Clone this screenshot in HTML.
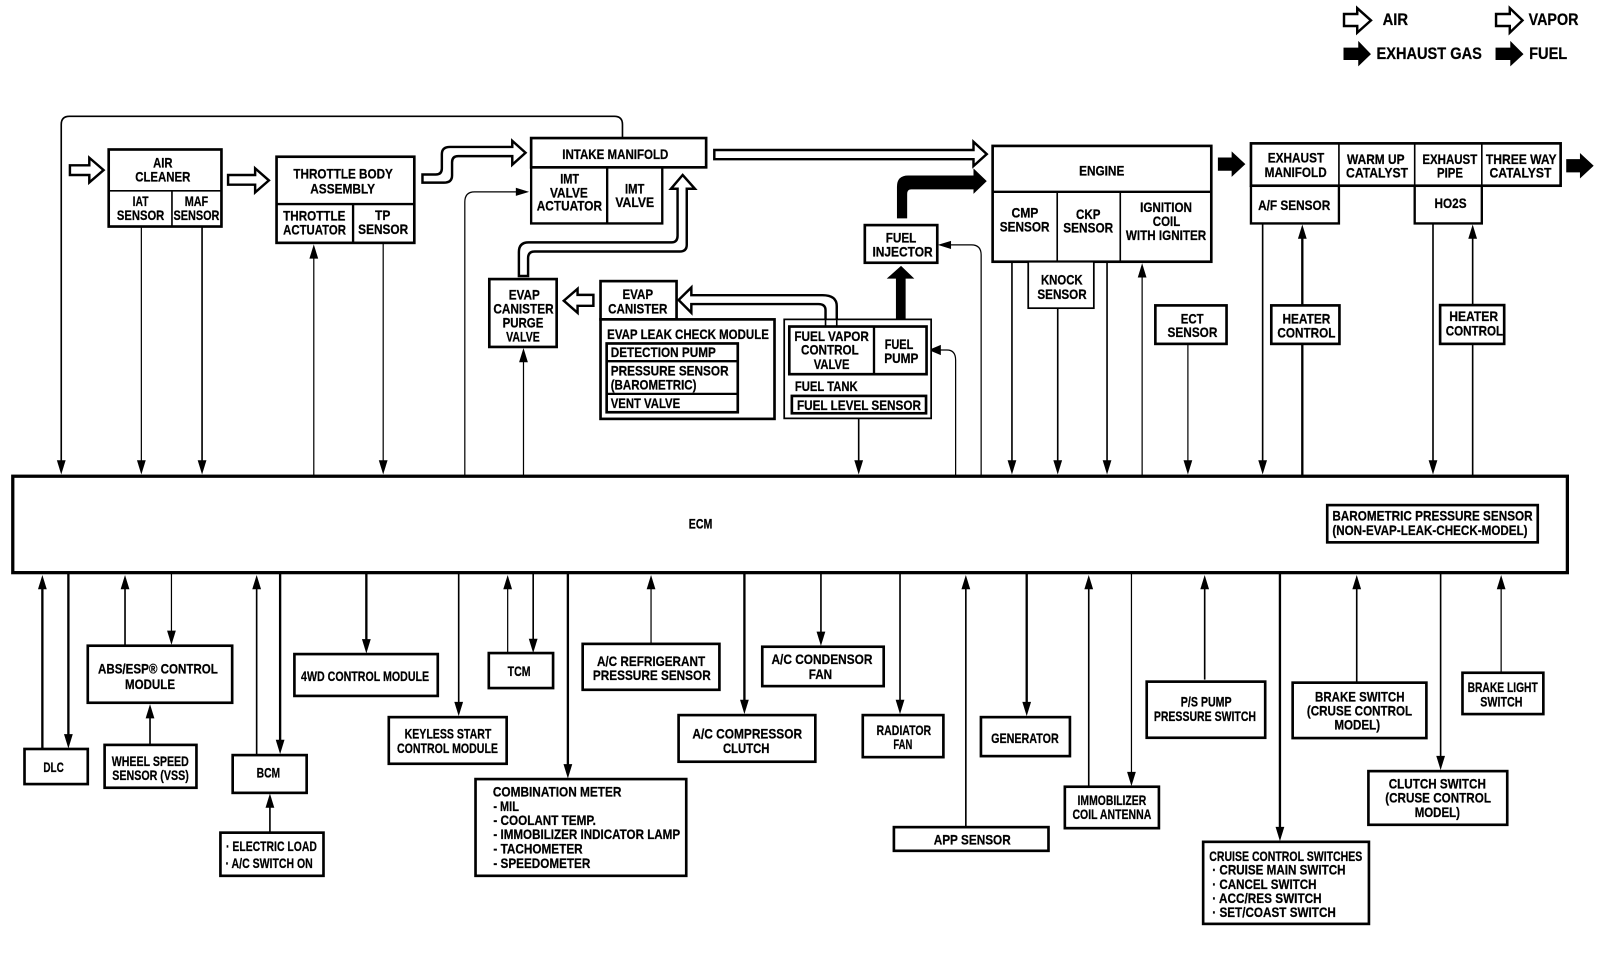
<!DOCTYPE html>
<html><head><meta charset="utf-8"><title>ECM system diagram</title>
<style>
html,body{margin:0;padding:0;background:#fff}
svg{display:block}
text{font-family:"Liberation Sans",sans-serif;font-weight:bold;font-size:14px;fill:#000;stroke:#000;stroke-width:.25}
text.lg{font-size:16.5px}
.b{fill:#fff;stroke:#000;stroke-width:2.6}
.m{fill:#fff;stroke:#000;stroke-width:1.7}
.n{fill:none;stroke:#000;stroke-width:1.6}
.l{fill:none;stroke:#000;stroke-width:1.6}
.t{fill:none;stroke:#000;stroke-width:2.3}
.h{fill:none;stroke:#000;stroke-width:1.2}
.w{fill:#fff;stroke:#000;stroke-width:2.4;stroke-linejoin:miter}
.k{fill:#000;stroke:none}
</style></head><body>
<svg xmlns="http://www.w3.org/2000/svg" width="1598" height="960" viewBox="0 0 1566 940.8">
<defs>
<path id="d" d="M0,0L-4.3,-14L4.3,-14Z"/>
<path id="u" d="M0,0L-4.3,14L4.3,14Z"/>
<path id="r" d="M0,0L-13,-4L-13,4Z"/>
<path id="f" d="M0,0L-13.5,-12.5L-13.5,-6.5L-27,-6.5L-27,6.5L-13.5,6.5L-13.5,12.5Z"/>
</defs>
<rect width="1566" height="941" fill="#fff"/>

<!-- connectors upper -->
<path class="l" d="M610,135V122Q610,114 602,114H68Q60,114 60,122V455"/>
<use href="#d" x="60" y="465"/>
<path class="h" d="M138.5,222V455"/><use href="#d" x="138.5" y="465"/>
<path class="l" d="M198,222V455"/><use href="#d" x="198" y="465"/>
<path class="h" d="M307.5,466V250"/><use href="#u" x="307.5" y="239.5"/>
<path class="h" d="M375.5,238V455"/><use href="#d" x="375.5" y="465"/>
<path class="h" d="M455.5,466V198Q455.5,188 465,188H508"/><use href="#r" x="518.5" y="188"/>
<path class="h" d="M513,466V350"/><use href="#u" x="513" y="341"/>
<path class="l" d="M841.5,405V455"/><use href="#d" x="841.5" y="465"/>
<path class="h" d="M936.5,466V353Q936.5,343 928,343H920"/><path d="M910,343L922,338V348Z" fill="#000"/>
<path class="h" d="M961.5,466V250Q961.5,240 952,240H930"/><path d="M919,240L932,236V244Z" fill="#000"/>

<!-- connectors lower -->
<path class="t" d="M41.5,734V570"/><use href="#u" x="41.5" y="563.5"/>
<path class="t" d="M67,561V725"/><use href="#d" x="67" y="733.5"/>
<path class="l" d="M122.5,633V570"/><use href="#u" x="122.5" y="563.5"/>
<path class="h" d="M168,561V622"/><use href="#d" x="168" y="632"/>
<path class="l" d="M147,730V698"/><use href="#u" x="147" y="690"/>
<path class="l" d="M251.5,740V570"/><use href="#u" x="251.5" y="563.5"/>
<path class="t" d="M274.5,561V730"/><use href="#d" x="274.5" y="739"/>
<path class="l" d="M264.5,816V786"/><use href="#u" x="264.5" y="777.6"/>
<path class="t" d="M359,561V630"/><use href="#d" x="359" y="640.4"/>
<path class="l" d="M449.5,561V692"/><use href="#d" x="449.5" y="701.8"/>
<path class="h" d="M497.5,640V570"/><use href="#u" x="497.5" y="563.5"/>
<path class="l" d="M522.5,561V630"/><use href="#d" x="522.5" y="640"/>
<path class="t" d="M556.5,561V752"/><use href="#d" x="556.5" y="762.9"/>
<path class="h" d="M638,631V570"/><use href="#u" x="638" y="563.5"/>
<path class="t" d="M729.5,561V690"/><use href="#d" x="729.5" y="699.8"/>
<path class="l" d="M804.5,561V623"/><use href="#d" x="804.5" y="633"/>
<path class="l" d="M882,561V690"/><use href="#d" x="882" y="699.8"/>
<path class="l" d="M946.5,810V570"/><use href="#u" x="946.5" y="563.5"/>

<g transform="matrix(.99667 0 0 1 3 0)">
<path class="l" d="M992,256V455"/><use href="#d" x="992" y="465"/>
<path class="l" d="M1037,302V455"/><use href="#d" x="1037" y="465"/>
<path class="l" d="M1085.5,256V455"/><use href="#d" x="1085.5" y="465"/>
<path class="h" d="M1120,466V268"/><use href="#u" x="1120" y="258"/>
<path class="h" d="M1165,337V455"/><use href="#d" x="1165" y="465"/>
<path class="l" d="M1238.5,219V455"/><use href="#d" x="1238.5" y="465"/>
<path class="t" d="M1277.5,466V230"/><use href="#u" x="1277.5" y="220"/>
<path class="l" d="M1406,219V455"/><use href="#d" x="1406" y="465"/>
<path class="l" d="M1445,466V230"/><use href="#u" x="1445" y="220"/>
<path class="t" d="M1006.5,561V692"/><use href="#d" x="1006.5" y="701.8"/>
<path class="l" d="M1067.5,771V570"/><use href="#u" x="1067.5" y="563.5"/>
<path class="h" d="M1109.5,561V760"/><use href="#d" x="1109.5" y="770.4"/>
<path class="l" d="M1181.5,666V570"/><use href="#u" x="1181.5" y="563.5"/>
<path class="t" d="M1255.5,561V815"/><use href="#d" x="1255.5" y="824.3"/>
<path class="l" d="M1331,669V570"/><use href="#u" x="1331" y="563.5"/>
<path class="l" d="M1413.5,561V745"/><use href="#d" x="1413.5" y="754.7"/>
<path class="h" d="M1473,659V570"/><use href="#u" x="1473" y="563.5"/>
</g>

<!-- flow arrows -->
<path class="w" d="M68.5,162H87.5V154.6L101.5,166.7L87.5,178.8V171.5H68.5Z"/>
<path class="w" d="M223.5,171.5H250V165L263.5,176.8L250,188.6V181H223.5Z"/>
<path class="w" d="M414,171H427Q433,171 433,165V151Q433,144 441,144H502V138L515,149.7L502,161.4V153H449Q443,153 443,159V172Q443,179 435,179H414Z"/>
<path class="w" d="M700,147H954V139L967,151L954,162.7V156H700Z"/>
<path class="w" d="M508.5,270.5V247Q508.5,237.5 518,237.5H658Q664,237.5 664,231V185H657.5L669,171.5L681,185H673V240Q673,246.5 666,246.5H524Q517.5,246.5 517.5,253V270.5Z"/>
<path class="w" d="M581.5,289H566V283L552.5,294.7L566,306.5V299.7H581.5Z"/>
<path class="w" d="M820,318.6V300Q820,289.3 806,289.3H677.5V281.7L665,294L677.5,306.5V298H802Q809,298 809,304V318.6"/>
<path class="k" d="M879,214V183Q879,172 890,172H954V165L967,177.5L954,190V185.6H893Q889,185.6 889,190V214Z"/>
<path class="k" d="M878,320V273H869L883,260.5L896,273H887.5V320Z"/>

<!-- left boxes -->
<rect class="b" x="106.5" y="146.5" width="110.5" height="75.5"/>
<path class="n" d="M106.5,187H217M168.5,187V222"/>
<rect class="b" x="271" y="153.6" width="135" height="84.4"/>
<path class="t" d="M271,200H406M346,200V238"/>
<rect class="b" x="520.5" y="135.3" width="171.5" height="28.7"/>
<path class="t" d="M520.5,164V219H649V164M595,164V219"/>
<rect class="b" x="479.5" y="273.5" width="66" height="66.5"/>
<rect class="b" x="588.5" y="275.5" width="74.5" height="37.5"/>
<rect class="b" x="588.5" y="313" width="170.5" height="97.5"/>
<rect class="b" x="594.5" y="336.6" width="128.5" height="67.4"/>
<path class="t" d="M594.5,354H723M594.5,386H723"/>
<rect class="m" x="768.5" y="313" width="144" height="97"/>
<rect class="b" x="773.5" y="320" width="134.5" height="46.7"/>
<path class="t" d="M856.5,320V366.7"/>
<rect class="b" x="776" y="388" width="131.5" height="17"/>
<path class="n" d="M809,320V304Q809,298 802,298M820,320V300Q820,289.3 806,289.3"/>
<rect class="b" x="847.5" y="220.6" width="71" height="36.9"/>
<rect x="12.5" y="466.7" width="1523.5" height="94.5" fill="#fff" stroke="#000" stroke-width="3.2"/>
<rect class="b" x="24" y="734" width="62" height="34.4"/>
<rect class="b" x="86" y="632.8" width="141.5" height="55.9"/>
<rect class="b" x="102.5" y="730" width="90" height="42"/>
<rect class="b" x="228" y="740" width="72.5" height="37"/>
<rect class="b" x="216" y="816" width="101" height="42.3"/>
<rect class="b" x="288.5" y="641" width="140.5" height="41"/>
<rect class="b" x="381" y="702.8" width="115.5" height="45.7"/>
<rect class="b" x="479" y="640" width="63" height="34.3"/>
<rect class="b" x="466" y="763.5" width="206.5" height="94.8"/>
<rect class="b" x="571" y="631" width="134" height="45"/>
<rect class="b" x="665" y="700.8" width="134" height="45.7"/>
<rect class="b" x="747" y="633.8" width="119" height="38.6"/>
<rect class="b" x="845.5" y="700.8" width="79" height="41.2"/>
<rect class="b" x="876" y="810.6" width="151.5" height="23.2"/>

<!-- left labels -->
<text x="150" y="164" textLength="19" lengthAdjust="spacingAndGlyphs">AIR</text>
<text x="132.5" y="178" textLength="54" lengthAdjust="spacingAndGlyphs">CLEANER</text>
<text x="130" y="202" textLength="15.5" lengthAdjust="spacingAndGlyphs">IAT</text>
<text x="114.5" y="215.7" textLength="46.5" lengthAdjust="spacingAndGlyphs">SENSOR</text>
<text x="181" y="202" textLength="23" lengthAdjust="spacingAndGlyphs">MAF</text>
<text x="170" y="215.7" textLength="45" lengthAdjust="spacingAndGlyphs">SENSOR</text>
<text x="287.5" y="175" textLength="97.5" lengthAdjust="spacingAndGlyphs">THROTTLE BODY</text>
<text x="304" y="189.5" textLength="63.5" lengthAdjust="spacingAndGlyphs">ASSEMBLY</text>
<text x="277.5" y="216" textLength="61" lengthAdjust="spacingAndGlyphs">THROTTLE</text>
<text x="277.5" y="230" textLength="61.5" lengthAdjust="spacingAndGlyphs">ACTUATOR</text>
<text x="367.5" y="215.7" textLength="15" lengthAdjust="spacingAndGlyphs">TP</text>
<text x="351" y="229.4" textLength="49" lengthAdjust="spacingAndGlyphs">SENSOR</text>
<text x="551" y="156" textLength="104" lengthAdjust="spacingAndGlyphs">INTAKE MANIFOLD</text>
<text x="549" y="179.7" textLength="18.5" lengthAdjust="spacingAndGlyphs">IMT</text>
<text x="539" y="193.5" textLength="37" lengthAdjust="spacingAndGlyphs">VALVE</text>
<text x="526" y="206.5" textLength="64" lengthAdjust="spacingAndGlyphs">ACTUATOR</text>
<text x="612.5" y="189.5" textLength="19" lengthAdjust="spacingAndGlyphs">IMT</text>
<text x="603" y="203" textLength="38" lengthAdjust="spacingAndGlyphs">VALVE</text>
<text x="498.5" y="293.5" textLength="30.5" lengthAdjust="spacingAndGlyphs">EVAP</text>
<text x="483.5" y="307" textLength="59" lengthAdjust="spacingAndGlyphs">CANISTER</text>
<text x="492.5" y="321" textLength="40" lengthAdjust="spacingAndGlyphs">PURGE</text>
<text x="496" y="334.6" textLength="33" lengthAdjust="spacingAndGlyphs">VALVE</text>
<text x="610" y="293" textLength="30" lengthAdjust="spacingAndGlyphs">EVAP</text>
<text x="596" y="307" textLength="58" lengthAdjust="spacingAndGlyphs">CANISTER</text>
<text x="595" y="332" textLength="158.5" lengthAdjust="spacingAndGlyphs">EVAP LEAK CHECK MODULE</text>
<text x="598.5" y="350" textLength="103" lengthAdjust="spacingAndGlyphs">DETECTION PUMP</text>
<text x="598.5" y="368" textLength="115.5" lengthAdjust="spacingAndGlyphs">PRESSURE SENSOR</text>
<text x="598.5" y="381.7" textLength="84" lengthAdjust="spacingAndGlyphs">(BAROMETRIC)</text>
<text x="598.5" y="400" textLength="68" lengthAdjust="spacingAndGlyphs">VENT VALVE</text>
<text x="778.5" y="334" textLength="73" lengthAdjust="spacingAndGlyphs">FUEL VAPOR</text>
<text x="785" y="347.4" textLength="56.5" lengthAdjust="spacingAndGlyphs">CONTROL</text>
<text x="797.5" y="361.8" textLength="35" lengthAdjust="spacingAndGlyphs">VALVE</text>
<text x="867" y="342" textLength="28" lengthAdjust="spacingAndGlyphs">FUEL</text>
<text x="866.5" y="355.6" textLength="33.5" lengthAdjust="spacingAndGlyphs">PUMP</text>
<text x="779" y="383" textLength="61.5" lengthAdjust="spacingAndGlyphs">FUEL TANK</text>
<text x="781" y="402" textLength="121.5" lengthAdjust="spacingAndGlyphs">FUEL LEVEL SENSOR</text>
<text x="868" y="237.6" textLength="30" lengthAdjust="spacingAndGlyphs">FUEL</text>
<text x="855" y="251.6" textLength="59" lengthAdjust="spacingAndGlyphs">INJECTOR</text>
<text x="675" y="517.8" textLength="23" lengthAdjust="spacingAndGlyphs">ECM</text>
<text x="42.5" y="756.4" textLength="20" lengthAdjust="spacingAndGlyphs">DLC</text>
<text x="96" y="660" textLength="117.5" lengthAdjust="spacingAndGlyphs">ABS/ESP® CONTROL</text>
<text x="122.5" y="675.3" textLength="49" lengthAdjust="spacingAndGlyphs">MODULE</text>
<text x="109.5" y="750.8" textLength="75.5" lengthAdjust="spacingAndGlyphs">WHEEL SPEED</text>
<text x="110" y="764.5" textLength="75" lengthAdjust="spacingAndGlyphs">SENSOR (VSS)</text>
<text x="251.5" y="762" textLength="23" lengthAdjust="spacingAndGlyphs">BCM</text>
<text x="221.5" y="834" textLength="89" lengthAdjust="spacingAndGlyphs">· ELECTRIC LOAD</text>
<text x="221" y="850.5" textLength="85.5" lengthAdjust="spacingAndGlyphs">· A/C SWITCH ON</text>
<text x="295" y="667.5" textLength="125.5" lengthAdjust="spacingAndGlyphs">4WD CONTROL MODULE</text>
<text x="396.5" y="723.7" textLength="85" lengthAdjust="spacingAndGlyphs">KEYLESS START</text>
<text x="389" y="737.7" textLength="99" lengthAdjust="spacingAndGlyphs">CONTROL MODULE</text>
<text x="497.5" y="662.5" textLength="22.5" lengthAdjust="spacingAndGlyphs">TCM</text>
<text x="483" y="780.8" textLength="126" lengthAdjust="spacingAndGlyphs">COMBINATION METER</text>
<text x="483.5" y="795" textLength="25" lengthAdjust="spacingAndGlyphs">- MIL</text>
<text x="483.5" y="808.6" textLength="100.5" lengthAdjust="spacingAndGlyphs">- COOLANT TEMP.</text>
<text x="483.5" y="822.4" textLength="183" lengthAdjust="spacingAndGlyphs">- IMMOBILIZER INDICATOR LAMP</text>
<text x="483.5" y="836.4" textLength="87.5" lengthAdjust="spacingAndGlyphs">- TACHOMETER</text>
<text x="483.5" y="850.5" textLength="95" lengthAdjust="spacingAndGlyphs">- SPEEDOMETER</text>
<text x="585" y="652.8" textLength="106" lengthAdjust="spacingAndGlyphs">A/C REFRIGERANT</text>
<text x="581" y="666.5" textLength="115.5" lengthAdjust="spacingAndGlyphs">PRESSURE SENSOR</text>
<text x="678.5" y="723.7" textLength="107.5" lengthAdjust="spacingAndGlyphs">A/C COMPRESSOR</text>
<text x="708.5" y="737.7" textLength="45.5" lengthAdjust="spacingAndGlyphs">CLUTCH</text>
<text x="756" y="650.8" textLength="99" lengthAdjust="spacingAndGlyphs">A/C CONDENSOR</text>
<text x="792.5" y="665.5" textLength="23" lengthAdjust="spacingAndGlyphs">FAN</text>
<text x="859" y="720.4" textLength="53.5" lengthAdjust="spacingAndGlyphs">RADIATOR</text>
<text x="875.5" y="734" textLength="18.5" lengthAdjust="spacingAndGlyphs">FAN</text>
<text x="915" y="827.6" textLength="75.5" lengthAdjust="spacingAndGlyphs">APP SENSOR</text>

<!-- right side -->
<g transform="matrix(.99667 0 0 1 3 0)">
<use href="#f" x="1221.5" y="160.8"/>
<use href="#f" x="1564" y="162.4"/>
<path class="w" d="M1318.5,13.7H1331.5V8L1345,20L1331.5,32V25.5H1318.5Z"/>
<path class="w" d="M1468,13.7H1481.5V8L1494,20L1481.5,32V25.5H1468Z"/>
<path class="k" d="M1318,46.7H1332.5V40L1345,53L1332.5,65V58.8H1318Z"/>
<path class="k" d="M1467.5,46.7H1482V40L1495,53L1482,65V58.8H1467.5Z"/>
<text class="lg" x="1356.5" y="24.5" textLength="25" lengthAdjust="spacingAndGlyphs">AIR</text>
<text class="lg" x="1500" y="24.5" textLength="49" lengthAdjust="spacingAndGlyphs">VAPOR</text>
<text class="lg" x="1350.5" y="57.8" textLength="103.5" lengthAdjust="spacingAndGlyphs">EXHAUST GAS</text>
<text class="lg" x="1500.5" y="57.8" textLength="37.5" lengthAdjust="spacingAndGlyphs">FUEL</text>

<rect class="b" x="973" y="143" width="215" height="113.5"/>
<path class="t" d="M973,188H1188"/><path class="n" d="M1036.5,188V256.5M1098.5,188V256.5"/>
<rect class="m" x="1008" y="256.5" width="64.5" height="45.5"/>
<rect class="b" x="1227" y="140.5" width="304.5" height="41.5"/>
<path class="n" d="M1313.5,140.5V182M1388,140.5V182M1454,140.5V182"/>
<path class="t" d="M1227,182V219H1313.5V182M1388,182V219H1454V182"/>
<rect class="b" x="1133" y="299.3" width="70" height="37.7"/>
<rect class="b" x="1247" y="299.3" width="67" height="37.7"/>
<rect class="b" x="1413" y="299" width="63" height="38"/>
<rect class="b" x="1302" y="495" width="207" height="36.5"/>
<rect class="b" x="961.5" y="702.8" width="87.5" height="38.2"/>
<rect class="b" x="1044" y="771" width="92.5" height="40.6"/>
<rect class="b" x="1124.5" y="668" width="116.5" height="55"/>
<rect class="b" x="1180" y="825" width="163" height="80.4"/>
<rect class="b" x="1268" y="669" width="131.5" height="54.3"/>
<rect class="b" x="1342.5" y="755.7" width="136.5" height="52.6"/>
<rect class="b" x="1435" y="659.3" width="79.5" height="40.5"/>

<text x="1058" y="172" textLength="44.5" lengthAdjust="spacingAndGlyphs">ENGINE</text>
<text x="991.5" y="213" textLength="26.5" lengthAdjust="spacingAndGlyphs">CMP</text>
<text x="980" y="227" textLength="49" lengthAdjust="spacingAndGlyphs">SENSOR</text>
<text x="1055" y="214.4" textLength="24" lengthAdjust="spacingAndGlyphs">CKP</text>
<text x="1042.5" y="228" textLength="49" lengthAdjust="spacingAndGlyphs">SENSOR</text>
<text x="1118" y="208" textLength="51" lengthAdjust="spacingAndGlyphs">IGNITION</text>
<text x="1130.5" y="221.6" textLength="27" lengthAdjust="spacingAndGlyphs">COIL</text>
<text x="1104" y="235.3" textLength="79" lengthAdjust="spacingAndGlyphs">WITH IGNITER</text>
<text x="1020.5" y="278.8" textLength="41" lengthAdjust="spacingAndGlyphs">KNOCK</text>
<text x="1017" y="293" textLength="48.5" lengthAdjust="spacingAndGlyphs">SENSOR</text>
<text x="1243.5" y="159.5" textLength="55.5" lengthAdjust="spacingAndGlyphs">EXHAUST</text>
<text x="1240.5" y="173.5" textLength="61" lengthAdjust="spacingAndGlyphs">MANIFOLD</text>
<text x="1321.5" y="160.8" textLength="56.5" lengthAdjust="spacingAndGlyphs">WARM UP</text>
<text x="1320.5" y="173.9" textLength="61" lengthAdjust="spacingAndGlyphs">CATALYST</text>
<text x="1395.5" y="160.8" textLength="54" lengthAdjust="spacingAndGlyphs">EXHAUST</text>
<text x="1410" y="174" textLength="25.5" lengthAdjust="spacingAndGlyphs">PIPE</text>
<text x="1458" y="160.8" textLength="69.5" lengthAdjust="spacingAndGlyphs">THREE WAY</text>
<text x="1461.5" y="174" textLength="61" lengthAdjust="spacingAndGlyphs">CATALYST</text>
<text x="1234" y="206" textLength="71" lengthAdjust="spacingAndGlyphs">A/F SENSOR</text>
<text x="1407.5" y="204" textLength="31.5" lengthAdjust="spacingAndGlyphs">HO2S</text>
<text x="1158" y="317" textLength="22.5" lengthAdjust="spacingAndGlyphs">ECT</text>
<text x="1145" y="330.4" textLength="49" lengthAdjust="spacingAndGlyphs">SENSOR</text>
<text x="1258" y="317" textLength="47" lengthAdjust="spacingAndGlyphs">HEATER</text>
<text x="1253" y="330.7" textLength="57" lengthAdjust="spacingAndGlyphs">CONTROL</text>
<text x="1422" y="314.7" textLength="48" lengthAdjust="spacingAndGlyphs">HEATER</text>
<text x="1418.5" y="329" textLength="56.5" lengthAdjust="spacingAndGlyphs">CONTROL</text>
<text x="1307" y="510.3" textLength="197" lengthAdjust="spacingAndGlyphs">BAROMETRIC PRESSURE SENSOR</text>
<text x="1307" y="524.3" textLength="192" lengthAdjust="spacingAndGlyphs">(NON-EVAP-LEAK-CHECK-MODEL)</text>
<text x="971.5" y="728" textLength="66.5" lengthAdjust="spacingAndGlyphs">GENERATOR</text>
<text x="1056.5" y="789" textLength="67.5" lengthAdjust="spacingAndGlyphs">IMMOBILIZER</text>
<text x="1051.5" y="802.7" textLength="77.5" lengthAdjust="spacingAndGlyphs">COIL ANTENNA</text>
<text x="1158" y="692.6" textLength="50" lengthAdjust="spacingAndGlyphs">P/S PUMP</text>
<text x="1131.5" y="706.7" textLength="100.5" lengthAdjust="spacingAndGlyphs">PRESSURE SWITCH</text>
<text x="1186" y="843.6" textLength="150.5" lengthAdjust="spacingAndGlyphs">CRUISE CONTROL SWITCHES</text>
<text x="1189" y="857" textLength="131" lengthAdjust="spacingAndGlyphs">· CRUISE MAIN SWITCH</text>
<text x="1189" y="871" textLength="102.5" lengthAdjust="spacingAndGlyphs">· CANCEL SWITCH</text>
<text x="1189" y="884.8" textLength="107.5" lengthAdjust="spacingAndGlyphs">· ACC/RES SWITCH</text>
<text x="1189" y="898.8" textLength="121.5" lengthAdjust="spacingAndGlyphs">· SET/COAST SWITCH</text>
<text x="1290" y="687.4" textLength="88" lengthAdjust="spacingAndGlyphs">BRAKE SWITCH</text>
<text x="1282" y="701.4" textLength="103.5" lengthAdjust="spacingAndGlyphs">(CRUSE CONTROL</text>
<text x="1309" y="714.8" textLength="45" lengthAdjust="spacingAndGlyphs">MODEL)</text>
<text x="1362.5" y="772.7" textLength="95.5" lengthAdjust="spacingAndGlyphs">CLUTCH SWITCH</text>
<text x="1359" y="786.7" textLength="104" lengthAdjust="spacingAndGlyphs">(CRUSE CONTROL</text>
<text x="1388" y="800.5" textLength="44.5" lengthAdjust="spacingAndGlyphs">MODEL)</text>
<text x="1440" y="678" textLength="69" lengthAdjust="spacingAndGlyphs">BRAKE LIGHT</text>
<text x="1452.5" y="692.6" textLength="41.5" lengthAdjust="spacingAndGlyphs">SWITCH</text>
</g>
</svg>
</body></html>
